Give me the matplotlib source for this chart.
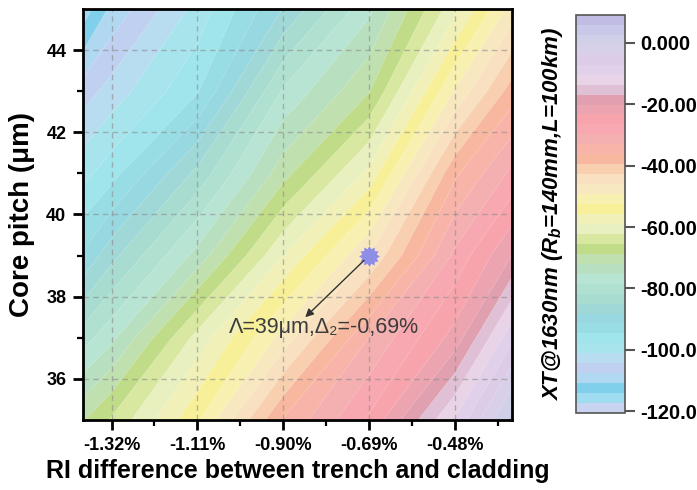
import numpy as np
import matplotlib
matplotlib.use("Agg")
import matplotlib.pyplot as plt
from matplotlib.path import Path

plt.rcParams['font.family'] = ['Liberation Sans', 'DejaVu Sans']
plt.rcParams['mathtext.fontset'] = 'custom'
plt.rcParams['mathtext.rm'] = 'Liberation Sans:bold'
plt.rcParams['mathtext.it'] = 'Liberation Sans:bold:italic'
plt.rcParams['mathtext.bf'] = 'Liberation Sans:bold'

# RI difference between trench and cladding (%), core pitch (um)
delta = [-1.39, -1.32, -1.11, -0.90, -0.69, -0.48, -0.34]
pitch = [35, 37, 39, 41, 43, 45]

# crosstalk XT@1630nm (dB), one row per pitch value
xt = [
    [-69, -65, -53, -36, -26, -10, 4],
    [-80, -76, -61, -48, -33, -22, -8],
    [-91, -86, -74, -59, -46, -29, -20],
    [-99, -96, -84, -70, -58, -37, -29],
    [-106, -103, -95, -78, -69, -49, -38],
    [-116, -110, -100, -88, -76, -60, -48],
]

x_ticks = [-1.32, -1.11, -0.90, -0.69, -0.48]
x_tick_labels = ['-1.32%', '-1.11%', '-0.90%', '-0.69%', '-0.48%']
y_ticks = [36, 38, 40, 42, 44]
cbar_ticks = [0, -20, -40, -60, -80, -100, -120]
cbar_tick_labels = ['0.000', '-20.00', '-40.00', '-60.00', '-80.00', '-100.0', '-120.0']
xt_min, xt_max = -120.6, 9.1

# selected design point
marked_delta = -0.69
marked_pitch = 39

# contour palette, lowest level first
band_colors = [
    '#c8d4f0', '#a0dcf0', '#80d0ec', '#b0d8f0', '#c0d0f0', '#b8dcf0',
    '#a8e4ec', '#a0e4ec', '#98dce4', '#98d8e0', '#a0d8d8', '#a8dcd0',
    '#b0e0d0', '#b8e4d4', '#b8e0c0', '#c0e0b0', '#c0dc88', '#d8e8a0',
    '#e8f0c0', '#f0f0b8', '#f8f098', '#f8f0b0', '#f8e8c0', '#f8e0c0',
    '#f8d0b0', '#f8b8a0', '#f8b4a8', '#f4b0b0', '#f8a8b0', '#f8a4ac',
    '#eca4b0', '#e0a0b0', '#e0c0d4', '#e8d4e6', '#e0d0ea', '#dccce8',
    '#d8d0e8', '#d0d0e8', '#c8c8e8', '#c0bce4',
]
levels = np.linspace(xt_min, xt_max, len(band_colors) + 1)

W, H = 697, 490
fig = plt.figure(figsize=(W / 100, H / 100), dpi=100)
ax = fig.add_axes([83 / W, 70 / H, 429 / W, 411 / H])
cax = fig.add_axes([576 / W, 77 / H, 49 / W, 398 / H])

X, Y = np.meshgrid(delta, pitch)
cf = ax.contourf(X, Y, np.array(xt, dtype=float), levels=levels,
                 colors=band_colors, antialiased=True, zorder=0)

ax.set_xlim(-1.39, -0.34)
ax.set_ylim(35, 45)
ax.set_xticks(x_ticks)
ax.set_xticklabels(x_tick_labels)
ax.set_yticks(y_ticks)
ax.set_xticks([(a + b) / 2 for a, b in zip(x_ticks[:-1], x_ticks[1:])] + [x_ticks[-1] + 0.105], minor=True)
ax.set_yticks([37, 39, 41, 43], minor=True)

ax.grid(True, which='major', color='#8c8c8c', alpha=0.6, linestyle=(0, (4, 3)), linewidth=1.0)
ax.set_axisbelow(False)
for sp in ax.spines.values():
    sp.set_linewidth(2.0)
    sp.set_zorder(5)
ax.tick_params(which='major', direction='out', length=7, width=2, labelsize=13,
               top=False, right=False, pad=5)
ax.tick_params(which='minor', direction='out', length=4, width=1.6, top=False, right=False)
for lab in ax.get_xticklabels() + ax.get_yticklabels():
    lab.set_fontweight('bold')

ax.set_xlabel('RI difference between trench and cladding', fontsize=18,
              fontweight='bold', labelpad=4)
ax.set_ylabel('Core pitch (μm)', fontsize=20, fontweight='bold', labelpad=8)

# marked point and its annotation
star = Path.unit_regular_star(12, 0.72)
ax.plot([marked_delta], [marked_pitch], linestyle='none', marker=star,
        markersize=15, color='#8e8ee6', markeredgewidth=0, zorder=6)
ax.annotate('', xy=(-0.846, 37.5), xytext=(marked_delta, marked_pitch),
            arrowprops=dict(arrowstyle='-|>', color='#333333', lw=1.0,
                            mutation_scale=12, shrinkA=5, shrinkB=0),
            zorder=6)
label = 'Λ={}μm,Δ₂={}%'.format(marked_pitch, f'{marked_delta:.2f}'.replace('.', ','))
ax.text(-0.80, 37.24, label, fontsize=15.5, color='#3c3c3c', ha='center',
        va='center', zorder=6)

cb = fig.colorbar(cf, cax=cax)
cb.set_ticks(cbar_ticks)
cb.set_ticklabels(cbar_tick_labels)
cb.outline.set_edgecolor('#555555')
cb.outline.set_linewidth(1.2)
cax.tick_params(direction='out', length=7, width=1.5, color='#555555',
                labelsize=14.5, pad=4)
cax.minorticks_off()
for lab in cax.get_yticklabels():
    lab.set_fontweight('bold')
cax.yaxis.set_label_position('left')
cax.set_ylabel('XT@1630nm ($R_b$=140mm,L=100km)', fontsize=16,
               fontweight='bold', fontstyle='italic', labelpad=8)

fig.savefig('out.png', dpi=100)
